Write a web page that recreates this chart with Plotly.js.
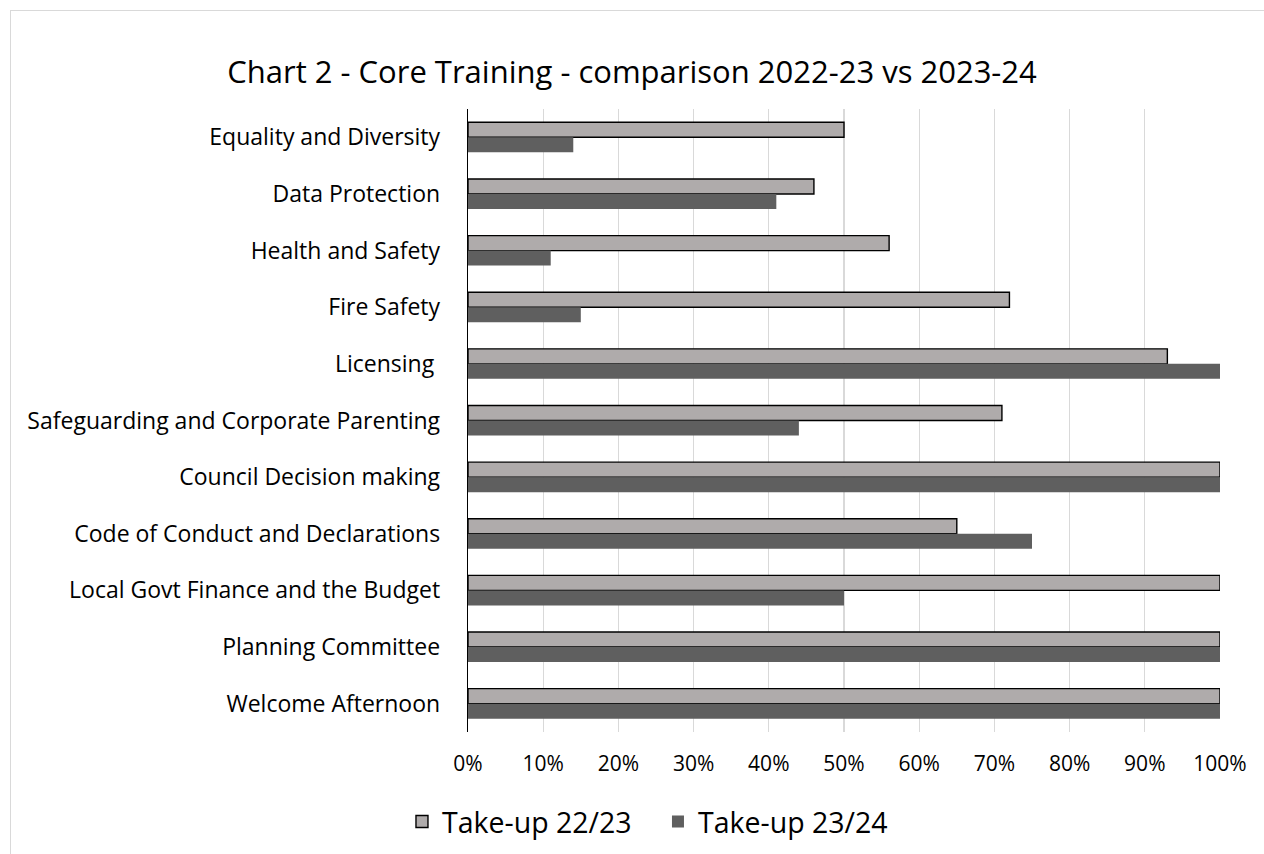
<!DOCTYPE html>
<html>
<head>
<meta charset="utf-8">
<script src="https://cdn.plot.ly/plotly-3.0.1.min.js"></script>
<style>
  html, body { margin: 0; padding: 0; background: #ffffff; overflow: hidden; }
  #frame { position: absolute; left: 10px; top: 10px; width: 1270px; height: 860px; border: 1px solid #d9d9d9; box-sizing: border-box; }
  #chart { position: absolute; left: 0; top: 0; width: 1264px; height: 854px; }
</style>
</head>
<body>
<div id="frame"></div>
<div id="chart"></div>
<script>
// Core training take-up, two years side by side
const cursos = [
  'Equality and Diversity',
  'Data Protection',
  'Health and Safety',
  'Fire Safety',
  'Licensing\u00a0',
  'Safeguarding and Corporate Parenting',
  'Council Decision making',
  'Code of Conduct and Declarations',
  'Local Govt Finance and the Budget',
  'Planning Committee',
  'Welcome Afternoon'
];
const takeUp2223 = [0.50, 0.46, 0.56, 0.72, 0.93, 0.71, 1.00, 0.65, 1.00, 1.00, 1.00];
const takeUp2324 = [0.14, 0.41, 0.11, 0.15, 1.00, 0.44, 1.00, 0.75, 0.50, 1.00, 1.00];
const nombres = ['Take-up 22/23', 'Take-up 23/24'];
const ticksX = [0, 0.1, 0.2, 0.3, 0.4, 0.5, 0.6, 0.7, 0.8, 0.9, 1.0];
const ticksXTexto = ['0%', '10%', '20%', '30%', '40%', '50%', '60%', '70%', '80%', '90%', '100%'];

const FUENTE = '"Open Sans", Lato, sans-serif';

const barra2223 = {
  type: 'bar',
  orientation: 'h',
  y: cursos,
  x: takeUp2223,
  name: nombres[0],
  marker: { color: '#afabab', line: { color: '#000000', width: 1.4 } },
};

const barra2324 = {
  type: 'bar',
  orientation: 'h',
  y: cursos,
  x: takeUp2324,
  name: nombres[1],
  marker: { color: '#5f5f5f', line: { color: '#5f5f5f', width: 0 } },
};

const layout = {
  width: 1264,
  height: 854,
  margin: { l: 468, r: 44, t: 109, b: 122, autoexpand: false },
  paper_bgcolor: 'rgba(0,0,0,0)',
  plot_bgcolor: 'rgba(0,0,0,0)',
  font: { family: FUENTE, color: '#000000' },
  title: {
    text: 'Chart 2 - Core Training - comparison 2022-23 vs 2023-24',
    font: { family: FUENTE, size: 31, color: '#000000' },
    x: 0.5,
    xanchor: 'center',
    y: 1 - 72 / 854,
    yanchor: 'middle',
  },
  barmode: 'group',
  bargap: 0.47,
  bargroupgap: 0,
  xaxis: {
    range: [0, 1],
    tickvals: ticksX,
    ticktext: ticksXTexto,
    showgrid: true,
    gridcolor: '#d9d9d9',
    gridwidth: 1.3,
    zeroline: false,
    showline: false,
    ticks: '',
    ticklabelstandoff: 17,
    tickfont: { family: FUENTE, size: 21, color: '#000000' },
  },
  yaxis: {
    type: 'category',
    autorange: 'reversed',
    showgrid: false,
    zeroline: false,
    showline: true,
    linecolor: '#000000',
    linewidth: 1.3,
    ticks: '',
    ticklabelstandoff: 22,
    tickfont: { family: FUENTE, size: 23, color: '#000000' },
  },
  legend: {
    orientation: 'h',
    x: -0.0878,
    xanchor: 'left',
    y: (732 - 822) / 623,
    yanchor: 'middle',
    font: { family: FUENTE, size: 28.5, color: '#000000' },
    itemwidth: 30,
    entrywidth: 211,
    traceorder: 'normal',
  },
  showlegend: true,
};

Plotly.newPlot('chart', [barra2223, barra2324], layout, { displayModeBar: false, staticPlot: true });
</script>
</body>
</html>
